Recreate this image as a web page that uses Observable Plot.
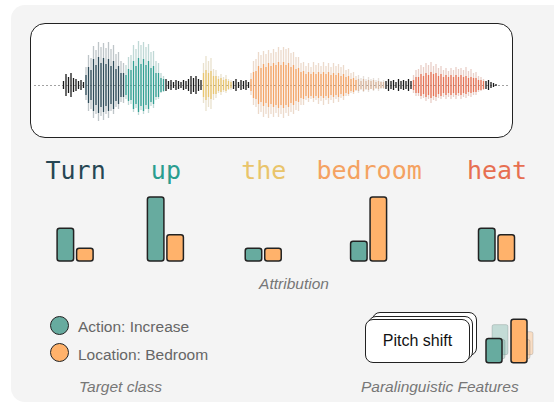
<!DOCTYPE html>
<html><head><meta charset="utf-8">
<script src="https://cdn.jsdelivr.net/npm/d3@7"></script>
<script src="https://cdn.jsdelivr.net/npm/@observablehq/plot@0.6"></script>
<style>
html,body{margin:0;padding:0;background:#fff;}
#root{position:relative;width:554px;height:403px;overflow:hidden;font-family:"Liberation Sans",Arial,sans-serif;}
.abs{position:absolute;}
#panel{left:11px;top:5px;width:600px;height:397px;background:#f4f4f4;border-radius:14px;}
#wavebox{left:30px;top:23px;width:481px;height:113px;background:#fff;border:1.5px solid #222;border-radius:15px;}
.lbl{font-size:15.5px;line-height:1;color:#666;white-space:nowrap;}
.cap{font-size:15.5px;line-height:1;color:#777;font-style:italic;white-space:nowrap;}
.dot{width:17px;height:17px;border:1.6px solid #222;border-radius:50%;}
.card{width:103px;height:42px;background:#fff;border:1.2px solid #222;border-radius:8px;}
#front{display:flex;align-items:center;justify-content:center;font-size:16px;color:#111;}
</style></head>
<body><div id="root">
<div id="panel" class="abs"></div>
<div id="wavebox" class="abs"></div>
<div id="wave" class="abs" style="left:29px;top:23px;"></div>
<div id="words" class="abs" style="left:0;top:140px;"></div>
<div class="abs cap" style="left:194px;top:276.4px;width:200px;text-align:center;">Attribution</div>
<div class="abs dot" style="left:50px;top:315.5px;background:#67ab9f;"></div>
<div class="abs dot" style="left:50px;top:343.3px;background:#ffb26b;"></div>
<div class="abs lbl" style="left:78px;top:318.6px;">Action: Increase</div>
<div class="abs lbl" style="left:78px;top:346.9px;">Location: Bedroom</div>
<div class="abs cap" style="left:79px;top:378.6px;">Target class</div>
<div class="abs card" style="left:371.6px;top:312.4px;"></div>
<div class="abs card" style="left:368.3px;top:315.7px;"></div>
<div id="front" class="abs card" style="left:365px;top:319px;">Pitch shift</div>
<div id="mini" class="abs" style="left:480px;top:295px;"></div>
<div class="abs cap" style="left:361px;top:378.6px;">Paralinguistic Features</div>
</div>
<script>
// ---------- data ----------
const words = ["Turn", "up", "the", "bedroom", "heat"];
const sentence = "Turn   up    the  bedroom   heat";
const wordColors = ["#264653", "#2a9d8f", "#e9c46a", "#f4a261", "#e76f51"];
const classes = ["Action: Increase", "Location: Bedroom"];
const classColors = ["#67ab9f", "#ffb26b"];
const actionAttr = [0.51, 1.0, 0.2, 0.31, 0.51];
const locationAttr = [0.2, 0.41, 0.2, 1.0, 0.41];
// pitch-shifted attribution (front layer, then the stacked copies behind it)
const shiftFront = [0.38, 0.68];
const shiftMid = [0.30, 0.30];
const shiftBack = [0.47, 0.36];

// waveform envelopes (amplitude per pulse)
const noise1 = [4, 11, 8, 12, 7, 6, 4, 5, 3];
const turnHi = [18, 30, 27, 39, 35, 43, 38, 42, 37, 43, 36, 40, 31, 33, 24, 22];
const turnLo = [15, 26, 24, 33, 29, 36, 31, 35, 29, 33, 26, 29, 22, 24, 17, 18];
const turnCore = [10, 18, 15, 26, 20, 28, 22, 27, 21, 26, 19, 24, 16, 19, 12, 12];
const upHi = [20, 28, 30, 40, 36, 44, 40, 43, 38, 41, 33, 34, 24, 22, 12, 9];
const upLo = [14, 20, 19, 27, 23, 30, 25, 29, 24, 28, 21, 23, 15, 14, 8, 7];
const upCore = [10, 16, 15, 24, 19, 27, 21, 26, 20, 24, 17, 19, 12, 12, 7, 6];
const noise2 = [6, 4, 5, 3, 5, 4, 3, 5, 4, 6, 9, 7, 9, 6, 5];
const theHi = [22, 29, 24, 27, 16, 15, 9, 11, 8, 10, 6, 5];
const theLo = [18, 26, 22, 24, 15, 13, 8, 10, 7, 8, 5, 5];
const theCore = [12, 15, 12, 14, 9, 9, 6, 7, 5, 6, 4, 3];
const noise3 = [4, 6, 3, 5, 4, 5, 3];
const bedroomHi = [12, 24, 26, 33, 30, 34, 31, 35, 32, 36, 33, 38, 35, 38, 36, 37, 32, 33, 28, 28,
  22, 23, 19, 22, 18, 23, 20, 22, 19, 23, 19, 22, 18, 22, 19, 21, 18, 20, 15, 16,
  12, 13, 9, 10, 7, 9, 6, 8, 6, 7, 5, 7, 4, 5];
const bedroomLo = [10, 20, 22, 29, 27, 32, 29, 33, 29, 32, 28, 32, 29, 33, 28, 31, 27, 29, 25, 26,
  20, 20, 15, 17, 14, 17, 15, 19, 16, 20, 15, 19, 15, 18, 14, 17, 13, 15, 11, 11,
  8, 9, 6, 8, 5, 7, 5, 7, 4, 6, 4, 6, 4, 4];
const bedroomCore = [6, 13, 14, 19, 17, 21, 18, 22, 19, 22, 20, 23, 20, 23, 20, 22, 18, 20, 16, 17,
  13, 14, 11, 13, 11, 13, 11, 13, 11, 13, 11, 13, 10, 12, 10, 12, 9, 11, 8, 9,
  6, 7, 5, 6, 4, 6, 4, 5, 4, 5, 3, 4, 3, 3];
const noise4 = [4, 6, 4, 5, 3, 6, 4, 5, 4, 6, 4];
const heatHi = [10, 15, 16, 20, 18, 22, 20, 23, 19, 21, 17, 19, 15, 17, 14, 17, 15, 18, 16, 17, 15, 18, 14, 16, 12, 13, 9, 8, 6];
const heatLo = [8, 11, 11, 14, 13, 16, 14, 18, 15, 16, 13, 14, 12, 14, 12, 14, 12, 14, 11, 14, 12, 13, 11, 12, 10, 10, 7, 6, 5];
const heatCore = [5, 8, 8, 11, 9, 12, 10, 13, 11, 12, 9, 11, 8, 10, 8, 10, 8, 10, 8, 10, 8, 9, 7, 8, 7, 7, 5, 5, 4];
const noise5 = [4, 5, 3, 2, 1];

// ---------- build tables ----------
const segs = [
  {noise: noise1},
  {w: 0, hi: turnHi, lo: turnLo, core: turnCore},
  {w: 1, hi: upHi, lo: upLo, core: upCore},
  {noise: noise2},
  {w: 2, hi: theHi, lo: theLo, core: theCore},
  {noise: noise3},
  {w: 3, hi: bedroomHi, lo: bedroomLo, core: bedroomCore},
  {noise: noise4},
  {w: 4, hi: heatHi, lo: heatLo, core: heatCore},
  {noise: noise5}
];
const bedroomTailColor = "#d9b49c";
const bedroomTailFrom = 43;
const voiced = [], unvoiced = [];
let t = 0;
for (const s of segs) {
  if (s.noise) { s.noise.forEach(a => unvoiced.push({t: t++, amp: a})); continue; }
  s.hi.forEach((h, i) => {
    const color = (s.w === 3 && i >= bedroomTailFrom) ? bedroomTailColor : wordColors[s.w];
    const haze = d3.interpolateRgb(color, "#b5b5b5")(0.5);
    voiced.push({t: t++, hi: h, lo: s.lo[i], core: s.core[i], color, haze});
  });
}

// ---------- waveform ----------
const pulsePx = 2.5;
const waveFrameW = 485 - 5 - 6;
const leadIn = 29 / pulsePx;
document.getElementById("wave").append(Plot.plot({
  width: 485, height: 116, marginLeft: 5, marginRight: 6, marginTop: 17, marginBottom: 9,
  x: {domain: [-leadIn, -leadIn + waveFrameW / pulsePx], axis: null},
  y: {domain: [-45, 45], axis: null},
  color: {type: "identity"},
  style: {background: "transparent", overflow: "visible"},
  marks: [
    Plot.ruleY([0], {stroke: "#8a8a8a", strokeWidth: 0.8, strokeDasharray: "2,2"}),
    Plot.ruleX(voiced, {x: "t", y1: d => -d.lo, y2: "hi", stroke: "haze", strokeOpacity: 0.45, strokeWidth: 1.3}),
    Plot.ruleX(voiced, {x: "t", y1: d => -d.core, y2: "core", stroke: "color", strokeOpacity: 0.95, strokeWidth: 1.3}),
    Plot.ruleX(unvoiced, {x: "t", y1: d => -d.amp, y2: "amp", stroke: "#1a1a1a", strokeWidth: 1.3})
  ]
}));

// ---------- words + attribution bars ----------
const colPx = 15.05;
const barW = 16.5, barGap = 3;
let from = 0;
const wordRows = words.map((w, i) => {
  const col = sentence.indexOf(w, from);
  from = col + w.length;
  return {word: w, col, center: col + w.length / 2, color: wordColors[i]};
});
const bars = [];
wordRows.forEach((r, i) => {
  bars.push({x1: r.center - (barGap / 2 + barW) / colPx, x2: r.center - barGap / 2 / colPx, v: actionAttr[i], fill: classColors[0]});
  bars.push({x1: r.center + barGap / 2 / colPx, x2: r.center + (barGap / 2 + barW) / colPx, v: locationAttr[i], fill: classColors[1]});
});
document.getElementById("words").append(Plot.plot({
  width: 554, height: 130, marginLeft: 45, marginRight: 11, marginTop: 57, marginBottom: 9,
  x: {domain: [0, (554 - 45 - 11) / colPx], axis: null},
  y: {domain: [0, 1], axis: null},
  color: {type: "identity"},
  style: {background: "transparent", overflow: "visible"},
  marks: [
    Plot.text(wordRows, {x: "col", text: "word", fill: "color", frameAnchor: "top", lineAnchor: "bottom", dy: -19,
      textAnchor: "start", fontFamily: "DejaVu Sans Mono", fontSize: 25}),
    Plot.rect(bars, {x1: "x1", x2: "x2", y1: 0, y2: "v", fill: "fill", stroke: "#222", strokeWidth: 1.5, rx: 2.5})
  ]
}));

// ---------- pitch-shift mini bars ----------
const layer = (vals) => classes.map((c, i) => ({c, v: vals[i], fill: classColors[i]}));
document.getElementById("mini").append(Plot.plot({
  width: 60, height: 75, marginLeft: 5, marginRight: 13, marginTop: 3.7, marginBottom: 7.3,
  x: {domain: classes, paddingInner: 0.36, paddingOuter: 0, axis: null},
  y: {domain: [0, 1], axis: null},
  color: {type: "identity"},
  style: {background: "transparent", overflow: "visible"},
  marks: [
    Plot.barY(layer(shiftBack), {x: "c", y: "v", fill: "fill", fillOpacity: 0.35, stroke: "#222", strokeOpacity: 0.15, strokeWidth: 1, rx: 2, dx: 6, dy: -8}),
    Plot.barY(layer(shiftMid), {x: "c", y: "v", fill: "fill", fillOpacity: 0.35, stroke: "#222", strokeOpacity: 0.15, strokeWidth: 1, rx: 2, dx: 3, dy: -4}),
    Plot.barY(layer(shiftFront), {x: "c", y: "v", fill: "fill", stroke: "#222", strokeWidth: 1.5, rx: 2.5})
  ]
}));
</script>
</body></html>
